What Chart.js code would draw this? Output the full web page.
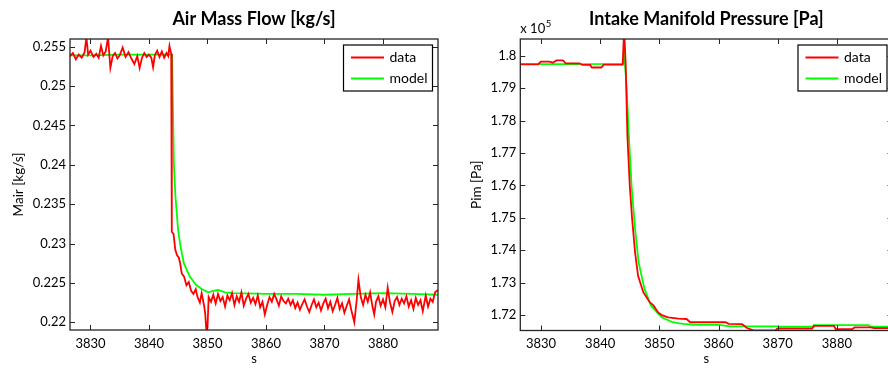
<!DOCTYPE html>
<html lang="en">
<head>
  <meta charset="UTF-8" />
  <title>Air Mass Flow / Intake Manifold Pressure</title>
  <script src="https://cdn.jsdelivr.net/npm/chart.js"></script>
  <style>
    html, body { margin: 0; padding: 0; background: #fff; overflow: hidden; }
    body { width: 888px; height: 369px; position: relative; }
    canvas { position: absolute; top: 0; }
    #mair { left: 0; }
    #pim { left: 444px; }
  </style>
</head>
<body>

  <canvas id="mair" width="444" height="369"></canvas>
  <canvas id="pim" width="452" height="369"></canvas>

  <script>
    // --- datos ---
    const timeTicks = [3830, 3840, 3850, 3860, 3870, 3880];
    const mairTicks = [0.22, 0.225, 0.23, 0.235, 0.24, 0.245, 0.25, 0.255];
    const pimTicks = [172000, 173000, 174000, 175000, 176000, 177000, 178000, 179000, 180000];

    const mairTimeData = [3826.5, 3827.0, 3827.5, 3828.0, 3828.5, 3829.0, 3829.3, 3829.6, 3830.0, 3830.5,
      3831.0, 3831.4, 3831.8, 3832.2, 3832.6, 3833.0, 3833.4, 3833.8, 3834.2, 3834.6,
      3835.0, 3835.5, 3836.0, 3836.5, 3837.0, 3837.5, 3838.0, 3838.4, 3838.8, 3839.2,
      3839.6, 3840.0, 3840.4, 3840.7, 3841.0, 3841.4, 3841.8, 3842.2, 3842.6, 3843.0,
      3843.3, 3843.5, 3843.8, 3843.9, 3844.2, 3844.5, 3844.8, 3845.1, 3845.3, 3845.6,
      3846.0, 3846.4, 3846.8, 3847.2, 3847.6, 3848.0, 3848.3, 3848.7, 3849.0, 3849.4,
      3849.6, 3849.8, 3850.0, 3850.2, 3850.6, 3851.0, 3851.4, 3851.8, 3852.2, 3852.6,
      3853.0, 3853.4, 3853.8, 3854.2, 3854.6, 3855.0, 3855.4, 3855.8, 3856.2, 3856.6,
      3857.0, 3857.4, 3857.8, 3858.2, 3858.6, 3859.0, 3859.4, 3859.8, 3860.2, 3860.6,
      3861.0, 3861.4, 3861.8, 3862.2, 3862.6, 3863.0, 3863.4, 3863.8, 3864.2, 3864.6,
      3865.0, 3865.4, 3865.8, 3866.2, 3866.6, 3867.0, 3867.4, 3867.8, 3868.2, 3868.6,
      3869.0, 3869.4, 3869.8, 3870.2, 3870.6, 3871.0, 3871.4, 3871.8, 3872.2, 3872.6,
      3873.0, 3873.4, 3873.8, 3874.2, 3874.6, 3875.1, 3875.5, 3875.8, 3876.2, 3876.6,
      3877.0, 3877.4, 3877.8, 3878.2, 3878.5, 3878.8, 3879.2, 3879.6, 3880.0, 3880.4,
      3880.8, 3881.2, 3881.6, 3882.0, 3882.4, 3882.8, 3883.2, 3883.6, 3884.0, 3884.4,
      3884.8, 3885.2, 3885.6, 3886.0, 3886.4, 3886.8, 3887.3, 3887.7, 3888.1, 3888.5,
      3888.9, 3889.4];
    const mairData = [0.2538, 0.2542, 0.2534, 0.2540, 0.2536, 0.2543, 0.2562, 0.2540, 0.2545, 0.2537,
      0.2541, 0.2536, 0.2551, 0.2539, 0.2544, 0.2562, 0.2523, 0.2538, 0.2542, 0.2535,
      0.2539, 0.2549, 0.2537, 0.2543, 0.2535, 0.2528, 0.2538, 0.2523, 0.2536, 0.2542,
      0.2537, 0.2540, 0.2536, 0.2524, 0.2539, 0.2545, 0.2537, 0.2544, 0.2536, 0.2542,
      0.2538, 0.2551, 0.2541, 0.2315, 0.2312, 0.2292, 0.2285, 0.2282, 0.2276, 0.2262,
      0.2258, 0.2247, 0.2251, 0.2240, 0.2236, 0.2242, 0.2232, 0.2225, 0.2237, 0.2222,
      0.2212, 0.2190, 0.2193, 0.2232, 0.2226, 0.2235, 0.2224, 0.2236, 0.2227, 0.2232,
      0.2220, 0.2234, 0.2228, 0.2237, 0.2222, 0.2233, 0.2226, 0.2238, 0.2221, 0.2230,
      0.2236, 0.2225, 0.2231, 0.2223, 0.2234, 0.2219, 0.2226, 0.2210, 0.2222, 0.2232,
      0.2226, 0.2236, 0.2229, 0.2221, 0.2233, 0.2227, 0.2224, 0.2230, 0.2222, 0.2228,
      0.2218, 0.2225, 0.2216, 0.2223, 0.2229, 0.2220, 0.2213, 0.2222, 0.2229, 0.2219,
      0.2225, 0.2215, 0.2224, 0.2230, 0.2218, 0.2226, 0.2214, 0.2222, 0.2231, 0.2217,
      0.2224, 0.2212, 0.2221, 0.2229, 0.2215, 0.2200, 0.2228, 0.2254, 0.2232, 0.2222,
      0.2235, 0.2226, 0.2238, 0.2220, 0.2210, 0.2226, 0.2233, 0.2221, 0.2229, 0.2219,
      0.2244, 0.2225, 0.2213, 0.2227, 0.2232, 0.2222, 0.2230, 0.2224, 0.2233, 0.2220,
      0.2228, 0.2217, 0.2231, 0.2222, 0.2228, 0.2214, 0.2234, 0.2220, 0.2230, 0.2226,
      0.2238, 0.2241];

    const mairTimeModel = [3826.5, 3830, 3835, 3840, 3843.95, 3844.25, 3844.53, 3844.98, 3845.4, 3845.95,
      3846.98, 3848.1, 3849.1, 3850.1, 3851.0, 3851.8, 3853.0, 3854.4, 3860, 3865,
      3870, 3875, 3880, 3885, 3889.4];
    const mairModel = [0.2539, 0.2539, 0.2540, 0.2540, 0.2540, 0.2402, 0.2359, 0.2317, 0.2296, 0.2275,
      0.2258, 0.2247, 0.2242, 0.2238, 0.2240, 0.2241, 0.2238, 0.2237, 0.2236, 0.2236,
      0.2235, 0.2236, 0.2237, 0.2236, 0.2235];

    const pimTimeData = [3826.5, 3829.5, 3830.0, 3831.4, 3832.0, 3832.6, 3833.7, 3834.2, 3836.5, 3837.0,
      3838.3, 3838.6, 3840.2, 3840.6, 3843.8, 3844.0, 3844.1, 3844.3, 3844.6, 3845.0,
      3845.4, 3845.9, 3846.4, 3847.3, 3848.4, 3849.0, 3849.8, 3850.5, 3851.5, 3853.2,
      3854.6, 3855.2, 3861.2, 3861.7, 3864.0, 3864.8, 3865.9, 3869.6, 3869.9, 3875.8,
      3876.1, 3879.5, 3879.8, 3882.6, 3883.0, 3885.7, 3886.3, 3889.4];
    const pimData = [179740, 179740, 179820, 179820, 179790, 179860, 179860, 179770, 179770, 179720,
      179720, 179640, 179640, 179730, 179730, 180600, 180600, 179790, 177530, 175990,
      174960, 173930, 173210, 172700, 172390, 172300, 172080, 171990, 171930, 171890,
      171880, 171780, 171780, 171730, 171720, 171600, 171530, 171530, 171580, 171580,
      171670, 171670, 171570, 171570, 171620, 171620, 171600, 171600];

    const pimTimeModel = [3826.5, 3835, 3843.9, 3844.05, 3844.45, 3844.85, 3845.3, 3845.9, 3846.5, 3847.5,
      3848.6, 3850.4, 3852.1, 3853.2, 3854.1, 3856, 3860, 3862, 3869.9, 3870.2,
      3876.0, 3876.1, 3885.4, 3885.6, 3889.4];
    const pimModel = [179745, 179745, 179750, 180140, 179070, 177530, 175990, 174650, 173620, 172800,
      172290, 171930, 171790, 171750, 171730, 171700, 171700, 171650, 171650, 171640,
      171640, 171690, 171690, 171640, 171640];

    const FONT = 'Lato, "Open Sans", sans-serif';
    const INK = '#262626';

    function pares(xs, ys) {
      return xs.map((x, i) => ({ x: x, y: ys[i] }));
    }

    // marco estilo MATLAB: caja, ticks hacia dentro, títulos y leyenda
    const marco = {
      id: 'marco',
      afterDraw(chart, args, o) {
        const { ctx, chartArea: a, scales: { x, y } } = chart;
        ctx.save();
        ctx.strokeStyle = INK;
        ctx.lineWidth = 1;
        ctx.beginPath();
        x.ticks.forEach(t => {
          const px = Math.round(x.getPixelForValue(t.value)) + 0.5;
          ctx.moveTo(px, a.top); ctx.lineTo(px, a.top + 5);
          ctx.moveTo(px, a.bottom); ctx.lineTo(px, a.bottom - 5);
        });
        y.ticks.forEach(t => {
          const py = Math.round(y.getPixelForValue(t.value)) + 0.5;
          ctx.moveTo(a.left, py); ctx.lineTo(a.left + 5, py);
          ctx.moveTo(a.right, py); ctx.lineTo(a.right - 5, py);
        });
        ctx.stroke();
        ctx.lineWidth = 1.3;
        ctx.strokeRect(a.left, a.top, a.right - a.left, a.bottom - a.top);

        const cx = (a.left + a.right) / 2;
        ctx.fillStyle = '#000';
        ctx.textAlign = 'center';
        ctx.textBaseline = 'middle';
        ctx.font = 'bold 18px ' + FONT;
        ctx.fillText(o.titulo, cx, 19);
        ctx.font = '13px ' + FONT;
        ctx.fillText('s', cx, 359);
        ctx.save();
        ctx.translate(o.ylabelX, (a.top + a.bottom) / 2);
        ctx.rotate(-Math.PI / 2);
        ctx.font = '13.5px ' + FONT;
        ctx.fillText(o.ylabel, 0, 0);
        ctx.restore();

        if (o.exponente) {
          ctx.textAlign = 'left';
          ctx.font = '13px ' + FONT;
          ctx.fillText('x 10', a.left, 29);
          const w = ctx.measureText('x 10').width;
          ctx.font = '9.5px ' + FONT;
          ctx.fillText(o.exponente, a.left + w + 0.5, 24);
        }

        // leyenda
        const bw = 89, bh = 46;
        const bx = a.right - 5.5 - bw, by = a.top + 6;
        ctx.fillStyle = '#fff';
        ctx.fillRect(bx, by, bw, bh);
        ctx.lineWidth = 1.2;
        ctx.strokeStyle = '#000';
        ctx.strokeRect(bx, by, bw, bh);
        ctx.font = '14px ' + FONT;
        ctx.textAlign = 'left';
        chart.data.datasets.forEach((ds, i) => {
          const ly = by + 12.5 + i * 21;
          ctx.strokeStyle = ds.borderColor;
          ctx.lineWidth = 1.8;
          ctx.beginPath();
          ctx.moveTo(bx + 7.5, ly); ctx.lineTo(bx + 40.5, ly);
          ctx.stroke();
          ctx.fillStyle = '#000';
          ctx.fillText(ds.label, bx + 46, ly);
        });
        ctx.restore();
      }
    };

    function crearGrafico(id, cfg) {
      const ctx = document.getElementById(id).getContext('2d');
      return new Chart(ctx, {
        type: 'line',
        data: {
          datasets: [
            { label: 'data', data: pares(cfg.tData, cfg.vData), borderColor: '#ff0000', borderWidth: 1.8, pointRadius: 0, tension: 0, clip: 0 },
            { label: 'model', data: pares(cfg.tModel, cfg.vModel), borderColor: '#00ff00', borderWidth: 1.8, pointRadius: 0, tension: 0, clip: 0 }
          ]
        },
        options: {
          responsive: false,
          animation: false,
          events: [],
          layout: { autoPadding: false, padding: { top: 39, right: cfg.padRight, left: 0, bottom: 0 } },
          plugins: {
            legend: { display: false },
            tooltip: { enabled: false },
            marco: { titulo: cfg.titulo, ylabel: cfg.ylabel, ylabelX: cfg.ylabelX, exponente: cfg.exponente }
          },
          scales: {
            x: {
              type: 'linear',
              min: 3826.5,
              max: 3889.4,
              grid: { display: false, tickLength: 0 },
              border: { display: false },
              afterFit: s => { s.height = cfg.xHeight; },
              afterBuildTicks: s => { s.ticks = timeTicks.map(v => ({ value: v })); },
              ticks: { padding: 6, color: '#000', font: { family: FONT, size: 13 }, maxRotation: 0, callback: v => String(v) }
            },
            y: {
              min: cfg.yMin,
              max: cfg.yMax,
              grid: { display: false, tickLength: 0 },
              border: { display: false },
              afterFit: s => { s.width = cfg.yWidth; },
              afterBuildTicks: s => { s.ticks = cfg.yTicks.map(v => ({ value: v })); },
              ticks: { padding: 4, color: '#000', font: { family: FONT, size: 13 }, callback: cfg.fmt }
            }
          }
        },
        plugins: [marco]
      });
    }

    crearGrafico('mair', {
      tData: mairTimeData, vData: mairData, tModel: mairTimeModel, vModel: mairModel,
      yMin: 0.21902, yMax: 0.25598, yTicks: mairTicks,
      fmt: v => String(Number(v.toFixed(3))),
      titulo: 'Air Mass Flow [kg/s]', ylabel: 'Mair [kg/s]', ylabelX: 18.5,
      yWidth: 70, xHeight: 39, padRight: 6
    });

    crearGrafico('pim', {
      tData: pimTimeData, vData: pimData, tModel: pimTimeModel, vModel: pimModel,
      yMin: 171525, yMax: 180520, yTicks: pimTicks,
      fmt: v => String(Number((v / 1e5).toFixed(2))),
      titulo: 'Intake Manifold Pressure [Pa]', ylabel: 'Pim [Pa]', ylabelX: 32.5, exponente: '5',
      yWidth: 76.3, xHeight: 38.5, padRight: 3.5
    });
  </script>

</body>
</html>
